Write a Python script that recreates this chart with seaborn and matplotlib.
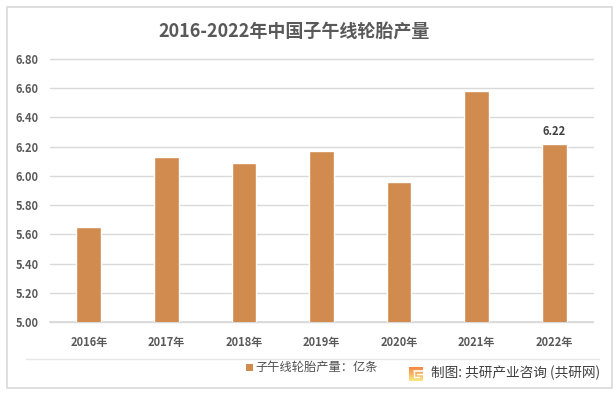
import matplotlib
matplotlib.use('Agg')
import matplotlib.pyplot as plt
import seaborn as sns
import numpy as np
import pandas as pd
from matplotlib.lines import Line2D
from matplotlib.patches import Rectangle

years = ['2016年', '2017年', '2018年', '2019年', '2020年', '2021年', '2022年']
output = [5.65, 6.13, 6.09, 6.17, 5.96, 6.58, 6.22]
yticks = [5.0, 5.2, 5.4, 5.6, 5.8, 6.0, 6.2, 6.4, 6.6, 6.8]

W, H = 616, 393

sns.set_theme(style='white')
plt.rcParams['font.family'] = ['Noto Sans CJK SC', 'DejaVu Sans']

df = pd.DataFrame({'year': years, 'output': output})

fig = plt.figure(figsize=(W / 100, H / 100), dpi=100)
ax = fig.add_axes([50 / W, 1 - 322 / H, 543 / W, (322 - 59) / H])

sns.barplot(data=df, x='year', y='output', color='#D28B4E', saturation=1, width=0.32, ax=ax, zorder=3)
ax.set_ylim(5.0, 6.8)
ax.set_xlim(-0.5, 6.5)
ax.set_yticks(yticks)
ax.set_yticklabels(['%.2f' % t for t in yticks], fontsize=8, fontweight='bold', color='#595959')
ax.tick_params(axis='y', length=0, pad=8)
ax.tick_params(axis='x', length=0, pad=10)
for lab in ax.get_xticklabels():
    lab.set_fontsize(8)
    lab.set_fontweight('bold')
    lab.set_color('#595959')
ax.set_xlabel('')
ax.set_ylabel('')
ax.grid(axis='y', color='#D9D9D9', lw=1, clip_on=False)
ax.set_axisbelow(True)
sns.despine(ax=ax, left=True, top=True, right=True)
ax.spines['bottom'].set_color('#D9D9D9')

# only the last bar carries a label
ax.text(6, output[6] + 0.04, '%.2f' % output[6], ha='center', va='bottom',
        fontsize=8, fontweight='bold', color='#404040')

fig.text(294 / W, 1 - 31 / H, '2016-2022年中国子午线轮胎产量', ha='center', va='center',
         fontsize=13, fontweight='bold', color='#595959')

# outer frame
fig.add_artist(Rectangle((6.5 / W, 1 - 387.5 / H), 605 / W, 381 / H, transform=fig.transFigure,
                         fill=False, ec='#D9D9D9', lw=1.2))
# line above the legend
fig.add_artist(Line2D([26 / W, 599 / W], [1 - 358.5 / H, 1 - 358.5 / H], color='#E6E6E6', lw=1))

# legend
fig.add_artist(Rectangle((246 / W, 1 - 371 / H), 7 / W, 7 / H, transform=fig.transFigure,
                         fc='#D28B4E', ec='none'))
fig.text(255 / W, 1 - 367.5 / H, '子午线轮胎产量：亿条', ha='left', va='center',
         fontsize=8.8, color='#505050')

# source logo
logo = fig.add_axes([409 / W, 1 - 381 / H, 14 / W, 14 / H])
grad = np.linspace(0, 1, 14)[:, None, None] * np.array([0.0, 0.4, 0.25]) + np.array([0.98, 0.5, 0.25])
logo.imshow(np.clip(grad, 0, 1), aspect='auto', extent=(0, 14, 0, 14))
logo.plot([4.5, 14], [10, 10], color='white', lw=1.2)
logo.plot([4.5, 4.5, 9.5], [10, 4, 4], color='white', lw=1.0)
logo.plot([8, 14], [7, 7], color='white', lw=1.0)
logo.set_xlim(0, 14)
logo.set_ylim(0, 14)
logo.axis('off')

fig.text(431 / W, 1 - 373 / H, '制图: 共研产业咨询 (共研网)', ha='left', va='center',
         fontsize=9.85, color='#404040')

fig.savefig('out.png', dpi=100)
